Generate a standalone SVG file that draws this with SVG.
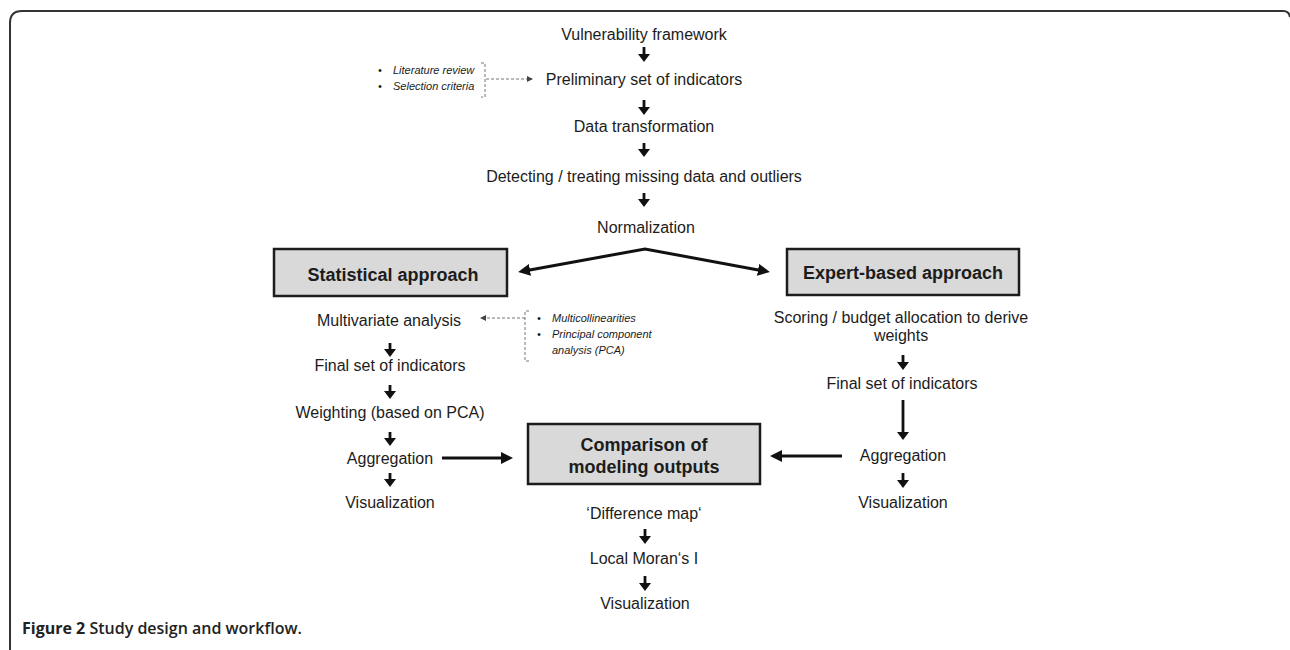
<svg xmlns="http://www.w3.org/2000/svg" width="1290" height="650" viewBox="0 0 1290 650">
<style>
.t{font-family:"Liberation Sans",Arial,sans-serif;font-size:16px;fill:#1c1c1c;text-anchor:middle}
.b{font-weight:bold;font-size:18px}
.i{font-style:italic;font-size:11px;text-anchor:start}
.box{fill:#d9d9d9;stroke:#1c1c1c;stroke-width:2.5}
.a{stroke:#111;stroke-width:2.8;fill:none;marker-end:url(#ah)}
.L{stroke:#111;stroke-width:3;fill:none}
.d{stroke:#777;stroke-width:1;stroke-dasharray:3,2;fill:none}
.cap{font-family:"Open Sans","Liberation Sans",sans-serif;font-size:16px;fill:#222}
</style>
<defs>
<marker id="ah" viewBox="0 0 8 12" refX="2" refY="6" markerWidth="8" markerHeight="12" markerUnits="userSpaceOnUse" orient="auto"><path d="M0,0L8,6L0,12z" fill="#111"/></marker>
<marker id="big" viewBox="0 0 12 12" refX="3" refY="6" markerWidth="12" markerHeight="12" markerUnits="userSpaceOnUse" orient="auto-start-reverse"><path d="M0,0L12,6L0,12z" fill="#111"/></marker>
<marker id="sm" viewBox="0 0 6 6" refX="5" refY="3" markerWidth="6" markerHeight="6" markerUnits="userSpaceOnUse" orient="auto"><path d="M0,0L6,3L0,6z" fill="#444"/></marker>
</defs>
<path d="M10,650 L10,23 Q10,11 22,11 L1283,11 Q1289,11 1290,17" fill="none" stroke="#333" stroke-width="2"/>
<g id="connectors">
<path class="a" d="M644,47V56"/>
<path class="a" d="M644,100V109"/>
<path class="a" d="M644,143V151"/>
<path class="a" d="M644,193V201"/>
<path class="a" d="M645,529V538"/>
<path class="a" d="M645,576V585"/>
<path class="a" d="M390,343V351"/>
<path class="a" d="M390,385V393"/>
<path class="a" d="M390,432V440"/>
<path class="a" d="M390,473V481"/>
<path class="a" d="M903,355V364"/>
<path class="a" d="M903,400V434"/>
<path class="a" d="M903,473V482"/>
<path class="L" d="M527,270.4L645,249L761,270.4" marker-start="url(#big)" marker-end="url(#big)"/>
<path class="L" d="M442,458H504" marker-end="url(#big)"/>
<path class="L" d="M842,456H779" marker-end="url(#big)"/>
<path class="d" d="M486,79H532" marker-end="url(#sm)"/>
<path class="d" d="M481,63H485V97H481"/>
<path class="d" d="M525,318H481" marker-end="url(#sm)"/>
<path class="d" d="M529,311H525V361H529"/>
</g>
<g id="n-vf"><text class="t" x="644" y="40">Vulnerability framework</text></g>
<g id="n-psi"><text class="t" x="644" y="85">Preliminary set of indicators</text></g>
<g id="n-lit"><text class="t i" x="378" y="74">•</text><text class="t i" x="393" y="74">Literature review</text><text class="t i" x="378" y="90">•</text><text class="t i" x="393" y="90">Selection criteria</text></g>
<g id="n-dt"><text class="t" x="644" y="132">Data transformation</text></g>
<g id="n-det"><text class="t" x="644" y="182">Detecting / treating missing data and outliers</text></g>
<g id="n-norm"><text class="t" x="646" y="233">Normalization</text></g>
<g id="n-stat"><rect class="box" x="274" y="249" width="233" height="47"/><text class="t b" x="393" y="281">Statistical approach</text></g>
<g id="n-exp"><rect class="box" x="787" y="249" width="232" height="46"/><text class="t b" x="903" y="279">Expert-based approach</text></g>
<g id="n-mva"><text class="t" x="389" y="326">Multivariate analysis</text></g>
<g id="n-mc"><text class="t i" x="537" y="322">•</text><text class="t i" x="552" y="322">Multicollinearities</text><text class="t i" x="537" y="338">•</text><text class="t i" x="552" y="338">Principal component</text><text class="t i" x="552" y="354">analysis (PCA)</text></g>
<g id="n-fs1"><text class="t" x="390" y="371">Final set of indicators</text></g>
<g id="n-w"><text class="t" x="390" y="418">Weighting (based on PCA)</text></g>
<g id="n-ag1"><text class="t" x="390" y="464">Aggregation</text></g>
<g id="n-v1"><text class="t" x="390" y="508">Visualization</text></g>
<g id="n-sc"><text class="t" x="901" y="323">Scoring / budget allocation to derive</text><text class="t" x="901" y="341">weights</text></g>
<g id="n-fs2"><text class="t" x="902" y="389">Final set of indicators</text></g>
<g id="n-ag2"><text class="t" x="903" y="461">Aggregation</text></g>
<g id="n-v2"><text class="t" x="903" y="508">Visualization</text></g>
<g id="n-cmp"><rect class="box" x="528" y="424" width="232" height="60"/><text class="t b" x="644" y="451">Comparison of</text><text class="t b" x="644" y="473">modeling outputs</text></g>
<g id="n-dm"><text class="t" x="644" y="519">‘Difference map‘</text></g>
<g id="n-lm"><text class="t" x="644" y="564">Local Moran‘s I</text></g>
<g id="n-v3"><text class="t" x="645" y="609">Visualization</text></g>
<text class="cap" x="22" y="634"><tspan font-weight="bold">Figure 2</tspan><tspan font-weight="600"> Study design and workflow.</tspan></text>
</svg>
